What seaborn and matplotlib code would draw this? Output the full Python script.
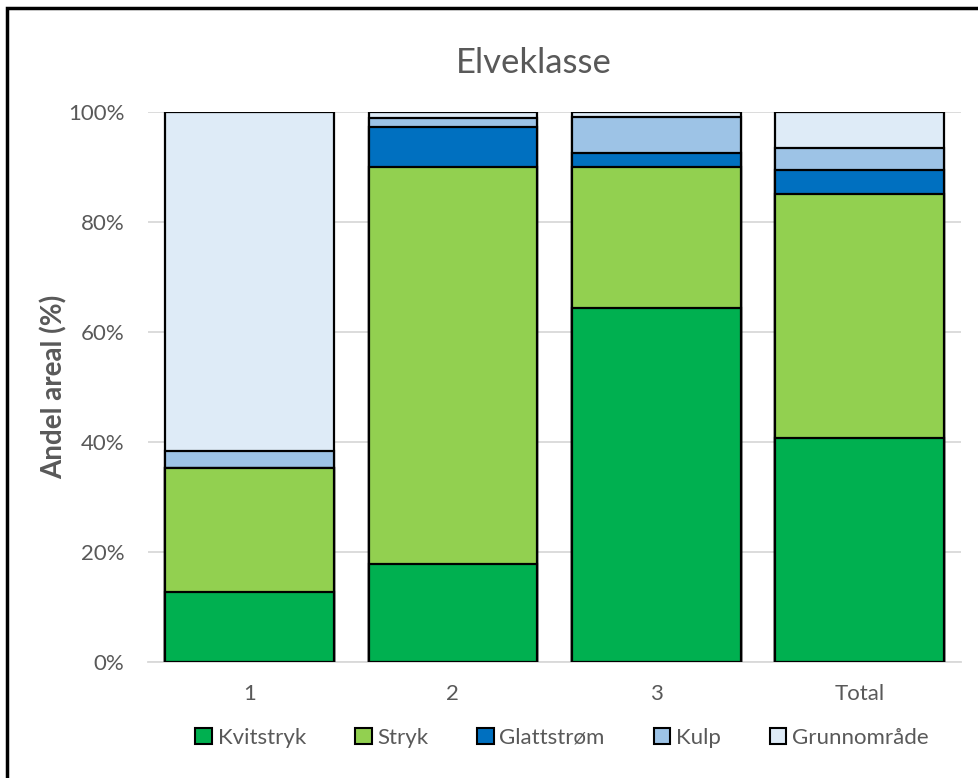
import matplotlib
matplotlib.use("Agg")
import matplotlib.pyplot as plt
from matplotlib.patches import Patch, Rectangle
import seaborn as sns
import pandas as pd
import numpy as np

# Share of area (%) per river class, by habitat type
categories = ["1", "2", "3", "Total"]
kvitstryk = [12.7, 17.8, 64.3, 40.8]
stryk = [22.6, 72.25, 25.75, 44.3]
glattstrom = [0.0, 7.25, 2.45, 4.4]
kulp = [3.1, 1.7, 6.6, 4.0]
grunnomrade = [61.6, 1.0, 0.9, 6.5]

series_names = ["Kvitstryk", "Stryk", "Glattstrøm", "Kulp", "Grunnområde"]
series_values = [kvitstryk, stryk, glattstrom, kulp, grunnomrade]
colors = ["#00B050", "#92D050", "#0070C0", "#9DC3E6", "#DEEBF7"]

sns.set_theme(style="white")
plt.rcParams["font.family"] = ["Lato", "DejaVu Sans"]
text_color = "#595959"

fig = plt.figure(figsize=(9.79, 7.78), dpi=100)
ax = fig.add_axes([0.151, 0.149, 0.831, 0.707])

# Stack by drawing cumulative totals, tallest first
cum = np.cumsum(np.array(series_values), axis=0)
for i in reversed(range(len(series_names))):
    df = pd.DataFrame({"kategori": categories, "verdi": cum[i]})
    sns.barplot(data=df, x="kategori", y="verdi", color=colors[i],
                width=0.83, edgecolor="black", linewidth=1.6,
                saturation=1, ax=ax, zorder=3)

ax.set_ylim(0, 100)
ax.set_xlim(-0.5, 3.5)
ax.set_yticks(np.arange(0, 101, 20))
ax.set_yticklabels([f"{v}%" for v in range(0, 101, 20)])
ax.yaxis.grid(True, color="#D9D9D9", linewidth=1.3, zorder=0)
ax.set_axisbelow(True)
for s in ["top", "right", "left"]:
    ax.spines[s].set_visible(False)
ax.spines["bottom"].set_color("#D9D9D9")
ax.spines["bottom"].set_linewidth(1.3)
ax.tick_params(axis="both", length=0, labelsize=16, colors=text_color)
ax.tick_params(axis="x", pad=16)
ax.tick_params(axis="y", pad=17)
ax.set_xlabel("")
ax.set_ylabel("Andel areal (%)", fontsize=20, fontweight="bold",
              color=text_color, labelpad=0)

fig.text(0.545, 0.919, "Elveklasse", ha="center", va="center",
         fontsize=25, color=text_color)

handles = [Patch(facecolor=c, edgecolor="black", linewidth=1.5, label=n)
           for n, c in zip(series_names, colors)]
fig.legend(handles=handles, loc="center", bbox_to_anchor=(0.574, 0.052),
           ncol=5, frameon=False, fontsize=16, handlelength=0.75,
           handleheight=0.75, handletextpad=0.25, columnspacing=2.2,
           labelcolor=text_color)

# Outer chart frame
fig.patches.append(Rectangle((0.0075, -0.1), 1.1, 1.0897, transform=fig.transFigure,
                             fill=False, edgecolor="black", linewidth=2.5))

fig.savefig("out.png", dpi=100)
